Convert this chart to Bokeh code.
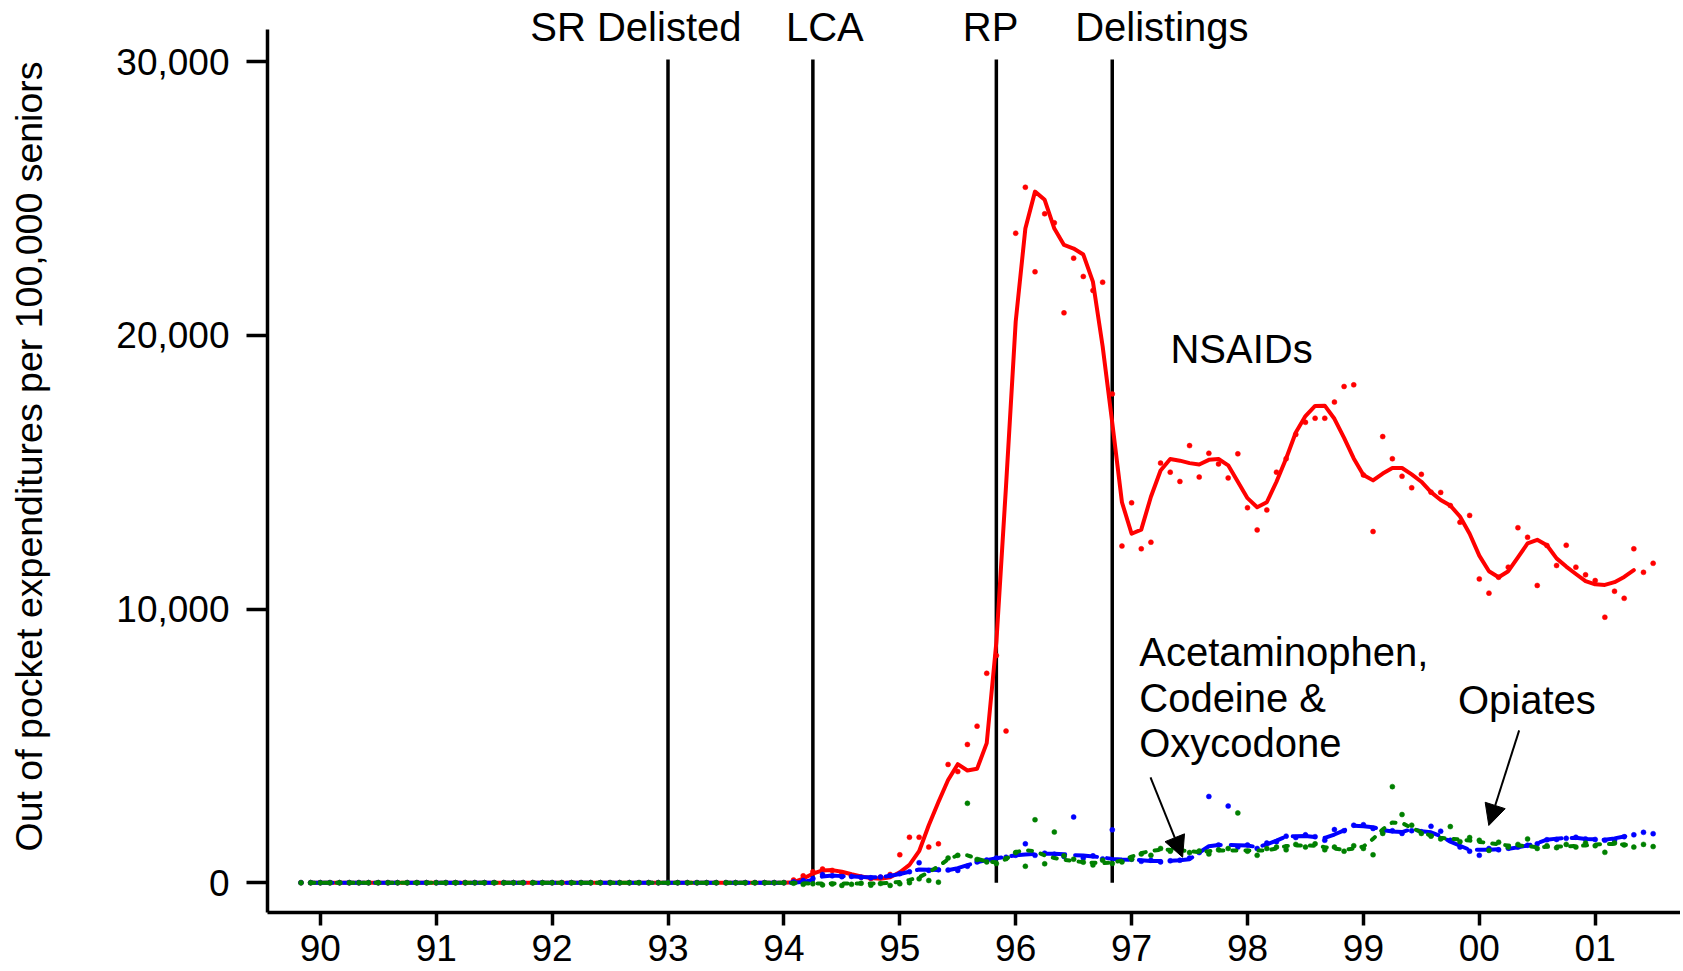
from bokeh.plotting import figure
from bokeh.models import Range1d, FixedTicker, NumeralTickFormatter, Arrow, NormalHead
from bokeh.core.properties import value
from bokeh.embed import file_html
from bokeh.resources import INLINE

FONT = "Liberation Sans"

# ---------------- data (monthly; x = year + (month-1)/12, "00" = 2000) ----------------
raw_start = 89 + 10 / 12      # Nov 1989
smooth_start = 89 + 11 / 12   # Dec 1989

nsaids_raw = [
    0, 0,
    0, 0, 0, 0, 0, 0, 0, 0, 0, 0, 0, 0,
    0, 0, 0, 0, 0, 0, 0, 0, 0, 0, 0, 0,
    0, 0, 0, 0, 0, 0, 0, 0, 0, 0, 0, 0,
    0, 0, 0, 0, 0, 0, 0, 0, 0, 0, 0, 0,
    0, 100, 250, 400, 500, 450, 350, 250, 200, 150, 200, 300,
    1020, 1660, 1660, 1300, 1420, 4320, 4060, 5050, 5720, 7650, 8300, 5540,
    23730, 25410, 22320, 24440, 24110, 20820, 22820, 22150, 21640, 21940, 17860, 12300,
    13880, 12200, 12440, 15330, 15000, 14660, 15970, 14820, 15690, 15300, 14790, 15670,
    13700, 12890, 13620, 15000, 15490, 16380, 16820, 16970, 16970, 17560, 18130, 18190,
    14900, 12830, 16300, 15490, 14850, 14430, 14920, 14270, 14260, 13780, 13170, 13420,
    11100, 10580, 11160, 11530, 12970, 12620, 10860, 12320, 11590, 12330, 11530, 11250,
    11040, 9700, 10650, 10390, 12200, 11340, 11670,
]
nsaids_smooth = [
    0,
    0, 0, 0, 0, 0, 0, 0, 0, 0, 0, 0, 0,
    0, 0, 0, 0, 0, 0, 0, 0, 0, 0, 0, 0,
    0, 0, 0, 0, 0, 0, 0, 0, 0, 0, 0, 0,
    0, 0, 0, 0, 0, 0, 0, 0, 0, 0, 0, 0,
    0, 20, 150, 330, 450, 460, 400, 310, 230, 170, 140, 200,
    380, 650, 1150, 2100, 2950, 3750, 4330, 4100, 4160, 5100, 8800, 14500,
    20500, 23900, 25250, 24950, 23900, 23300, 23170, 22950, 21950, 19600, 16800, 13900,
    12750, 12900, 14100, 15060, 15480, 15420, 15330, 15280, 15450, 15480, 15250, 14650,
    14050, 13720, 13900, 14650, 15500, 16450, 17050, 17420, 17430, 16950, 16250, 15500,
    14900, 14700, 14950, 15150, 15150, 14920, 14650, 14270, 13980, 13780, 13380, 12750,
    11950, 11380, 11160, 11380, 11890, 12400, 12530, 12330, 11850, 11550, 11280, 11020,
    10900, 10880, 10980, 11170, 11420,
]
acet_raw = [
    0, 0,
    0, 0, 0, 0, 0, 0, 0, 0, 0, 0, 0, 0,
    0, 0, 0, 0, 0, 0, 0, 0, 0, 0, 0, 0,
    0, 0, 0, 0, 0, 0, 0, 0, 0, 0, 0, 0,
    0, 0, 0, 0, 0, 0, 0, 0, 0, 0, 0, 0,
    0, 30, 80, 150, 300, 250, 220, 230, 200, 180, 210, 260,
    330, 400, 730, 450, 470, 460, 450, 600, 760, 830, 900, 930,
    1000, 1420, 1000, 1080, 1040, 960, 2400, 900, 980, 870, 1930, 800,
    860, 780, 820, 760, 800, 820, 900, 1100, 3150, 1380, 2800, 1300,
    1380, 1250, 1450, 1500, 1700, 1650, 1750, 1680, 1550, 1940, 1900, 2100,
    2120, 1980, 1850, 1900, 1800, 1900, 1860, 2060, 1880, 1550, 1300, 1150,
    1000, 1250, 1200, 1260, 1300, 1370, 1420, 1570, 1580, 1620, 1660, 1600,
    1580, 1550, 1540, 1680, 1750, 1840, 1790,
]
acet_smooth = [
    0,
    0, 0, 0, 0, 0, 0, 0, 0, 0, 0, 0, 0,
    0, 0, 0, 0, 0, 0, 0, 0, 0, 0, 0, 0,
    0, 0, 0, 0, 0, 0, 0, 0, 0, 0, 0, 0,
    0, 0, 0, 0, 0, 0, 0, 0, 0, 0, 0, 0,
    0, 0, 30, 100, 230, 260, 240, 230, 210, 200, 200, 250,
    320, 400, 480, 470, 460, 460, 530, 640, 750, 820, 890, 950,
    1000, 1030, 1050, 1060, 1060, 1040, 1010, 990, 960, 920, 870, 850,
    840, 820, 790, 790, 800, 820, 860, 1100, 1330, 1380, 1380, 1370,
    1360, 1300, 1400, 1540, 1690, 1700, 1710, 1670, 1640, 1760, 1910, 2080,
    2060, 2030, 1920, 1870, 1850, 1960, 1880, 1840, 1700, 1500, 1350, 1200,
    1200, 1200, 1220, 1240, 1290, 1360, 1450, 1570, 1610, 1630, 1640, 1600,
    1580, 1570, 1620, 1690, 1780,
]
opiates_raw = [
    0, 0,
    0, 0, 0, 0, 0, 0, 0, 0, 0, 0, 0, 0,
    0, 0, 0, 0, 0, 0, 0, 0, 0, 0, 0, 0,
    0, 0, 0, 0, 0, 0, 0, 0, 0, 0, 0, 0,
    0, 0, 0, 0, 0, 0, 0, 0, 0, 0, 0, 0,
    0, -20, -60, -40, -80, -50, -100, -60, -20, -90, -30, -100,
    -40, 0, 140, 80, 20, 900, 1000, 2900, 850, 760, 700, 880,
    1100, 600, 2300, 690, 1850, 980, 860, 750, 650, 820, 700, 760,
    860, 1050, 1000, 1250, 1150, 1300, 1100, 1160, 1050, 1200, 1250, 2550,
    1150, 1000, 1250, 1300, 1200, 1400, 1300, 1420, 1200, 1300, 1150, 1350,
    1250, 1020, 1800, 3510, 2490, 2100, 1800, 1700, 1600, 2050, 1500, 1650,
    1550, 1180, 1480, 1300, 1400, 1600, 1250, 1350, 1280, 1400, 1300, 1450,
    1350, 1110, 1450, 1380, 1300, 1400, 1320,
]
opiates_smooth = [
    0,
    0, 0, 0, 0, 0, 0, 0, 0, 0, 0, 0, 0,
    0, 0, 0, 0, 0, 0, 0, 0, 0, 0, 0, 0,
    0, 0, 0, 0, 0, 0, 0, 0, 0, 0, 0, 0,
    0, 0, 0, 0, 0, 0, 0, 0, 0, 0, 0, 0,
    0, -10, -20, -30, -30, -30, -30, -30, -30, -30, -20, -10,
    30, 100, 200, 380, 600, 850, 1000, 1000, 880, 770, 750, 860,
    1120, 1190, 1150, 1000, 900, 840, 790, 750, 730, 710, 740, 810,
    950, 1080, 1160, 1200, 1200, 1190, 1150, 1120, 1150, 1180, 1180, 1180,
    1180, 1180, 1180, 1250, 1340, 1360, 1360, 1350, 1300, 1250, 1200, 1250,
    1320, 1600, 1950, 2200, 2180, 2000, 1850, 1720, 1640, 1600, 1580, 1540,
    1490, 1450, 1400, 1360, 1360, 1330, 1300, 1310, 1320, 1330, 1340, 1360,
    1390, 1420, 1410, 1390, 1360,
]

x_ticks = [90, 91, 92, 93, 94, 95, 96, 97, 98, 99, 100, 101]
x_tick_labels = ["90", "91", "92", "93", "94", "95", "96", "97", "98", "99", "00", "01"]
y_ticks = [0, 10000, 20000, 30000]

events = ["SR Delisted", "LCA", "RP", "Delistings"]
event_x = [93.0, 94.25, 95.833, 96.833]


def months(start, n):
    return [start + i / 12 for i in range(n)]


# ---------------- figure ----------------
p = figure(width=1680, height=970, output_backend="svg", toolbar_location=None,
           x_range=Range1d(89.5444, 101.736), y_range=Range1d(-1089, 32233),
           min_border_left=267, min_border_right=0, min_border_top=0, min_border_bottom=58)
p.outline_line_color = None
p.xgrid.visible = False
p.ygrid.visible = False
p.background_fill_color = "white"
p.border_fill_color = "white"

# event lines
p.segment(x0=event_x, y0=[0] * len(event_x), x1=event_x, y1=[30080] * len(event_x),
          line_color="black", line_width=3.5)

RED, BLUE, GREEN = "#FF0000", "#0000FF", "#008000"
series = [
    (nsaids_raw, nsaids_smooth, RED, "solid"),
    (acet_raw, acet_smooth, BLUE, "22 10"),
    (opiates_raw, opiates_smooth, GREEN, "4 9"),
]
for raw, smooth, col, dash in series:
    p.scatter(months(raw_start, len(raw)), raw, size=5, marker="circle",
              fill_color=col, line_color=col, line_width=0.5)
    p.line(months(smooth_start, len(smooth)), smooth, line_color=col, line_width=4,
           line_dash=dash, line_cap="round", line_join="round")

# top event labels
p.text(x=[92.723, 94.353, 95.783, 97.261], y=[31255] * 4, text=events,
       text_font=value(FONT), text_font_size="40px", text_align="center",
       text_baseline="middle", text_color="black")

# series labels
p.text(x=[97.335], y=[19491], text=["NSAIDs"], text_font=value(FONT),
       text_font_size="40px", text_align="left", text_baseline="middle", text_color="black")
p.text(x=[97.066, 97.066, 97.066], y=[8430, 6742, 5097],
       text=["Acetaminophen,", "Codeine &", "Oxycodone"], text_font=value(FONT),
       text_font_size="40px", text_align="left", text_baseline="middle", text_color="black")
p.text(x=[99.816], y=[6665], text=["Opiates"], text_font=value(FONT),
       text_font_size="40px", text_align="left", text_baseline="middle", text_color="black")

# arrows
p.add_layout(Arrow(end=NormalHead(size=21, fill_color="black", line_color="black"),
                   x_start=97.163, y_start=3850, x_end=97.44, y_end=930,
                   line_color="black", line_width=2))
p.add_layout(Arrow(end=NormalHead(size=21, fill_color="black", line_color="black"),
                   x_start=100.344, y_start=5565, x_end=100.082, y_end=2090,
                   line_color="black", line_width=2))

# axes
xa = p.xaxis[0]
xa.ticker = FixedTicker(ticks=x_ticks)
xa.major_label_overrides = {t: lab for t, lab in zip(x_ticks, x_tick_labels)}
xa.major_tick_out = 13
xa.major_tick_in = 0
xa.minor_tick_line_color = None
xa.axis_line_width = 3.5
xa.major_tick_line_width = 3.5
xa.major_label_text_font = FONT
xa.major_label_text_font_size = "37px"
xa.major_label_text_color = "black"
xa.major_label_standoff = 9

ya = p.yaxis[0]
ya.ticker = FixedTicker(ticks=y_ticks)
ya.formatter = NumeralTickFormatter(format="0,0")
ya.bounds = (-1089, 31173)
ya.major_tick_out = 21
ya.major_tick_in = 0
ya.minor_tick_line_color = None
ya.axis_line_width = 3.5
ya.major_tick_line_width = 3.5
ya.major_label_text_font = FONT
ya.major_label_text_font_size = "37px"
ya.major_label_text_color = "black"
ya.major_label_standoff = 17
ya.axis_label = "Out of pocket expenditures per 100,000 seniors"
ya.axis_label_text_font = FONT
ya.axis_label_text_font_size = "37.5px"
ya.axis_label_text_font_style = "normal"
ya.axis_label_text_color = "black"
ya.axis_label_standoff = 63

open("out.html", "w").write(file_html(p, INLINE))
